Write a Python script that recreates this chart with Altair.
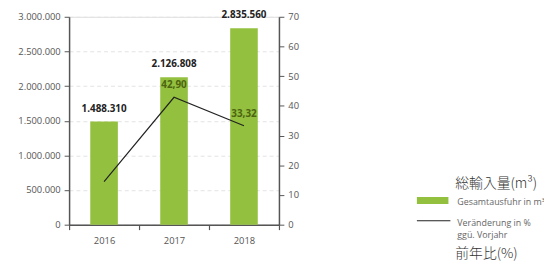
import altair as alt
import pandas as pd

years = ["2016", "2017", "2018"]
volumes = [1488310, 2126808, 2835560]
changes = [14.5, 42.90, 33.32]
change_labels = ["", "42,90", "33,32"]

left_ticks = [0, 500000, 1000000, 1500000, 2000000, 2500000, 3000000]
right_ticks = [0, 10, 20, 30, 40, 50, 60, 70]

legend_title_jp = "総輸入量(m³)"
legend_bar_de = "Gesamtausfuhr in m³"
legend_line_de1 = "Veränderung in %"
legend_line_de2 = "ggü. Vorjahr"
legend_line_jp = "前年比(%)"

df = pd.DataFrame({"year": years, "volume": volumes, "change": changes,
                   "clabel": change_labels})

FONT = "Open Sans"
AXIS_GREY = "#555555"
BAR_GREEN = "#93c13f"

x = alt.X("year:N", title=None,
          scale=alt.Scale(paddingInner=0, paddingOuter=0),
          axis=alt.Axis(labelAngle=0, tickBand="extent", domainColor=AXIS_GREY,
                        domainWidth=1.5, tickColor=AXIS_GREY, tickSize=5,
                        tickWidth=1.2, labelColor=AXIS_GREY, labelFontSize=9.5,
                        labelFont=FONT, labelPadding=6, grid=False))

yleft = alt.Y("volume:Q", title=None,
              scale=alt.Scale(domain=[0, 3000000], nice=False),
              axis=alt.Axis(values=left_ticks, format=",.0f", domainColor=AXIS_GREY,
                            domainWidth=1.5, tickColor=AXIS_GREY, tickSize=5,
                            labelColor=AXIS_GREY, labelFontSize=9.5, labelFont=FONT,
                            labelPadding=4, grid=True, gridColor="#e3e3e3",
                            gridDash=[4, 3], gridWidth=1))

base = alt.Chart(df)

bars = base.mark_bar(width=28, color=BAR_GREEN).encode(x=x, y=yleft)
bar_text = base.mark_text(fontWeight="bold", fontSize=10, font=FONT, color="#222222",
                          dy=-13).encode(x=x, y=yleft, text=alt.Text("volume:Q", format=",.0f"))

yright = alt.Y("change:Q", title=None,
               scale=alt.Scale(domain=[0, 70], nice=False),
               axis=alt.Axis(orient="right", values=right_ticks, domainColor=AXIS_GREY,
                             domainWidth=1.5, tickColor=AXIS_GREY, tickSize=5,
                             labelColor=AXIS_GREY, labelFontSize=9.5, labelFont=FONT,
                             labelPadding=4, grid=False))

line = base.mark_line(color="#222222", strokeWidth=1.2).encode(x=x, y=yright)
line_text = base.mark_text(fontWeight="bold", fontSize=10, font=FONT, color="#4d6410",
                           dy=-12).encode(x=x, y=yright, text="clabel:N")

left_layer = alt.layer(bars, bar_text)
right_layer = alt.layer(line, line_text)

# legend (drawn as text/marks outside the plot area)
leg = pd.DataFrame({"a": [0]})
lg_title = alt.Chart(leg).mark_text(text=legend_title_jp, font="Noto Sans CJK JP",
                                    fontSize=14, fontWeight=300, align="left",
                                    baseline="middle", color="#333333").encode(
    x=alt.value(392), y=alt.value(170))
lg_swatch = alt.Chart(leg).mark_rect(color=BAR_GREEN).encode(
    x=alt.value(353), x2=alt.value(385), y=alt.value(183), y2=alt.value(190))
lg_bar_txt = alt.Chart(leg).mark_text(text=legend_bar_de, font=FONT, fontSize=9,
                                      align="left", baseline="middle",
                                      color="#666666").encode(x=alt.value(394), y=alt.value(188))
lg_line = alt.Chart(leg).mark_rule(color="#222222", strokeWidth=1.2).encode(
    x=alt.value(353), x2=alt.value(387), y=alt.value(207))
lg_line_txt1 = alt.Chart(leg).mark_text(text=legend_line_de1, font=FONT, fontSize=9,
                                        align="left", baseline="middle",
                                        color="#666666").encode(x=alt.value(394), y=alt.value(209))
lg_line_txt2 = alt.Chart(leg).mark_text(text=legend_line_de2, font=FONT, fontSize=9,
                                        align="left", baseline="middle",
                                        color="#666666").encode(x=alt.value(394), y=alt.value(222))
lg_line_jp = alt.Chart(leg).mark_text(text=legend_line_jp, font="Noto Sans CJK JP",
                                      fontSize=14, fontWeight=300, align="left",
                                      baseline="middle", color="#333333").encode(
    x=alt.value(392), y=alt.value(241))

chart = alt.layer(left_layer, right_layer, lg_title, lg_swatch, lg_bar_txt, lg_line,
                  lg_line_txt1, lg_line_txt2, lg_line_jp).resolve_scale(
    y="independent").properties(
    width=213, height=211,
    autosize=alt.AutoSizeParams(type="none"),
    padding={"left": 62, "top": 7, "right": 269, "bottom": 39},
).configure_view(stroke=None).configure(
    locale={"number": {"decimal": ",", "thousands": ".", "grouping": [3],
                       "currency": ["", " €"]}}
)

chart.save("out.html", embed_options={"renderer": "svg", "actions": False})
